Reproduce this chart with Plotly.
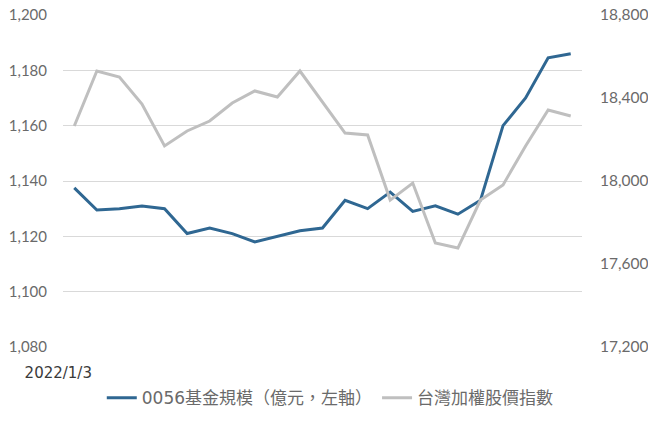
import plotly.graph_objects as go

categories = list(range(23))
tick_labels = ["2022/1/3"]
fund_size = [1137.5, 1129.5, 1130, 1131, 1130, 1121, 1123, 1121, 1118, 1120, 1122, 1123,
             1133, 1130, 1136, 1129, 1131, 1128, 1133, 1160, 1170, 1184.5, 1186]
taiex = [18265, 18530, 18501, 18371, 18169, 18241, 18289, 18376, 18434, 18405, 18530, 18381,
         18231, 18222, 17908, 17990, 17701, 17677, 17908, 17981, 18169, 18342, 18313]

font_family = "'DejaVu Sans', 'Noto Sans CJK TC', sans-serif"
tick_family = "Lato, 'DejaVu Sans', sans-serif"

fig = go.Figure()
fig.add_trace(go.Scatter(x=categories, y=fund_size, mode="lines",
                         name="0056基金規模（億元，左軸）",
                         line=dict(color="#2f6792", width=3)))
fig.add_trace(go.Scatter(x=categories, y=taiex, mode="lines", yaxis="y2",
                         name="台灣加權股價指數",
                         line=dict(color="#bfbfbf", width=3)))

# page body has an 8px default margin, so the figure is sized/offset to compensate
fig.update_layout(
    width=648, height=413,
    margin=dict(l=55, r=74, t=7, b=74, autoexpand=False),
    paper_bgcolor="white", plot_bgcolor="white",
    font=dict(family=font_family, size=14, color="#6a6a6a"),
    showlegend=True,
    legend=dict(orientation="h", x=0.515, xanchor="center", y=-0.154, yanchor="middle",
                font=dict(size=17, color="#6a6a6a"), itemwidth=30, tracegroupgap=0),
    xaxis=dict(range=[-0.5, 22.5], tickvals=[0], ticktext=tick_labels, automargin=False,
               showgrid=False, zeroline=False, showline=False,
               tickfont=dict(size=15, color="#3a3a3a"), ticks="outside", ticklen=12,
               tickcolor="rgba(0,0,0,0)", ticklabelshift=-16),
    yaxis=dict(range=[1080, 1200], dtick=20, tickformat=",d", showgrid=True, automargin=False,
               gridcolor="#d9d9d9", gridwidth=1, zeroline=False, showline=False,
               ticks="outside", ticklen=12, tickcolor="rgba(0,0,0,0)",
               tickfont=dict(family=tick_family, size=15), ticklabeloverflow="allow"),
    yaxis2=dict(range=[17200, 18800], dtick=400, tickformat=",d", overlaying="y",
                side="right", showgrid=False, zeroline=False, showline=False, automargin=False,
                ticks="outside", ticklen=14, tickcolor="rgba(0,0,0,0)",
                tickfont=dict(family=tick_family, size=15.5), ticklabeloverflow="allow"),
)

fig.write_html("out.html")
